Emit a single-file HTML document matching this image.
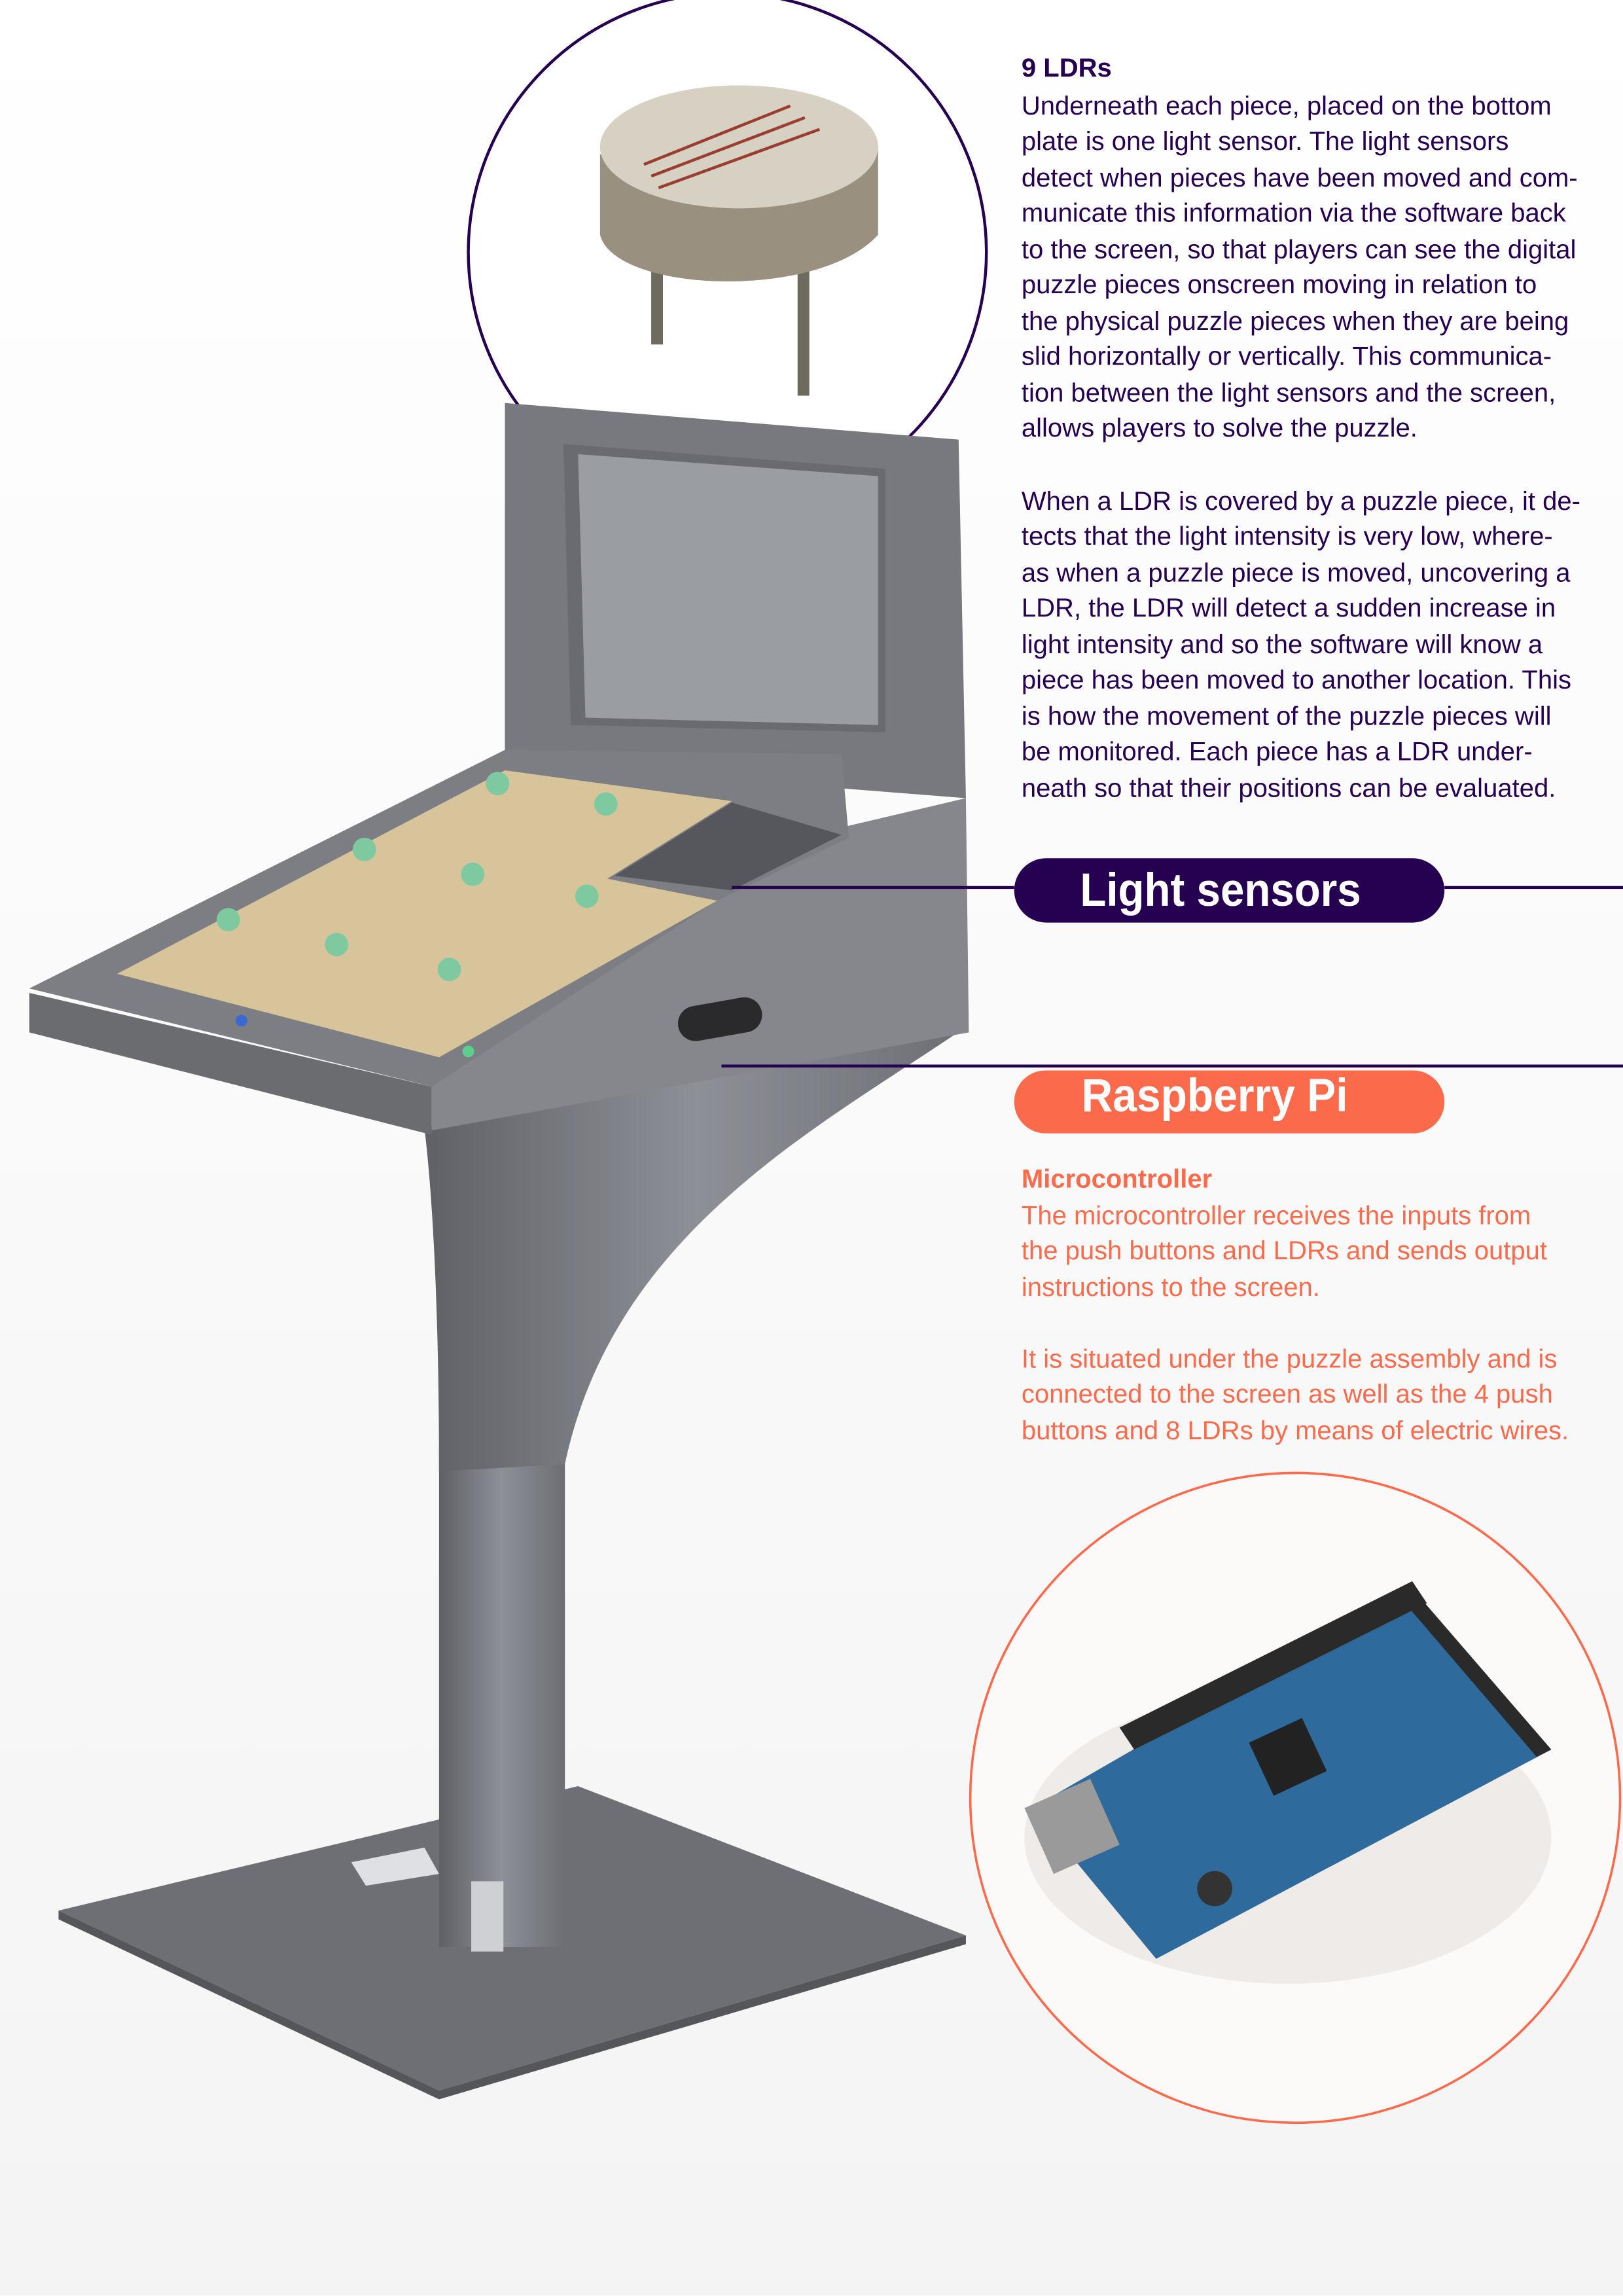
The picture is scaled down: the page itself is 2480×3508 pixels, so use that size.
<!DOCTYPE html>
<html><head><meta charset="utf-8"><style>
html,body{margin:0;padding:0;background:#fff;}
svg{display:block}
.b{font-family:"Liberation Sans",sans-serif;font-size:17.9px;fill:#260051;}
.o{font-family:"Liberation Sans",sans-serif;font-size:17.9px;fill:#fc6a4c;}
</style></head><body>
<svg width="2480" height="3508" viewBox="0 0 1109 1568" xmlns="http://www.w3.org/2000/svg">
<defs>
<linearGradient id="g1" x1="0" y1="0" x2="1" y2="0"><stop offset="0" stop-color="#5f6167"/><stop offset="0.5" stop-color="#8d9096"/><stop offset="1" stop-color="#6c6e74"/></linearGradient>
<linearGradient id="bg" x1="0" y1="0" x2="0" y2="1"><stop offset="0" stop-color="#fff"/><stop offset="1" stop-color="#f4f4f4"/></linearGradient>
</defs>
<rect width="1109" height="1568" fill="url(#bg)"/>
<circle cx="497" cy="172" r="177" fill="#fff" stroke="#260051" stroke-width="2"/>
<rect x="445" y="150" width="8" height="85" fill="#6f6a5f"/>
<rect x="545" y="175" width="8" height="95" fill="#6f6a5f"/>
<path d="M410,105 L410,160 C420,200 560,205 600,160 L600,100 Z" fill="#9a9080"/>
<ellipse cx="505" cy="100" rx="95" ry="42" fill="#d6d1c2"/>
<path d="M440,112 L540,72 M445,120 L550,80 M450,128 L560,88" stroke="#9b3c30" stroke-width="2"/>
<polygon points="40,1305 395,1220 660,1322 300,1428" fill="#6e6f74"/>
<polygon points="40,1305 300,1428 660,1322 660,1328 300,1434 40,1311" fill="#55565a"/>
<rect x="300" y="990" width="86" height="340" fill="url(#g1)"/>
<polygon points="240,1272 290,1262 300,1280 250,1288" fill="#dfe0e3"/>
<rect x="322" y="1285" width="22" height="48" fill="#cfd0d3"/>
<path d="M290,770 L662,700 C560,770 420,840 386,1000 L300,1005 C300,900 296,820 290,770 Z" fill="url(#g1)"/>
<polygon points="345,275 655,300 660,545 345,520" fill="#78797e"/>
<polygon points="385,303 605,320 605,500 390,495" fill="#6a6b70"/>
<polygon points="395,310 600,325 600,495 400,490" fill="#9a9da2"/>
<polygon points="420,600 575,565 660,545 662,705 295,772 295,742" fill="#85878c"/>
<polygon points="20,675 345,512 575,515 580,572 490,615 295,742" fill="#7c7e83"/>
<polygon points="20,678 295,742 295,775 20,705" fill="#6a6c70"/>
<polygon points="80,665 345,526 500,547 415,600 490,615 300,722" fill="#d8c49a"/>
<polygon points="420,598 500,548 575,570 500,608" fill="#55575c"/>
<rect x="463" y="684" width="58" height="24" rx="12" fill="#2a2a2d" transform="rotate(-10 492 696)"/>
<g fill="#7fc9a0">
<circle cx="340" cy="535" r="8"/><circle cx="414" cy="549" r="8"/><circle cx="249" cy="580" r="8"/><circle cx="323" cy="597" r="8"/><circle cx="401" cy="612" r="8"/><circle cx="156" cy="628" r="8"/><circle cx="230" cy="645" r="8"/><circle cx="307" cy="662" r="8"/>
</g>
<circle cx="165" cy="697" r="4" fill="#3a6ad0"/>
<circle cx="320" cy="718" r="4" fill="#5bd08a"/>
<line x1="500" y1="606" x2="693" y2="606" stroke="#260051" stroke-width="2"/>
<line x1="987" y1="606" x2="1109" y2="606" stroke="#260051" stroke-width="2"/>
<line x1="493" y1="728" x2="1109" y2="728" stroke="#260051" stroke-width="2"/>
<rect x="693" y="586" width="294" height="44" rx="22" fill="#260051"/>
<text x="738" y="618.5" textLength="192" lengthAdjust="spacingAndGlyphs" font-family="Liberation Sans,sans-serif" font-weight="bold" font-size="32" fill="#fff">Light sensors</text>
<rect x="693" y="731" width="294" height="43" rx="21.5" fill="#fc6a4c"/>
<text x="739" y="759" textLength="182" lengthAdjust="spacingAndGlyphs" font-family="Liberation Sans,sans-serif" font-weight="bold" font-size="32" fill="#fff">Raspberry Pi</text>
<text class="b" x="698" y="52" font-weight="bold">9 LDRs</text>
<text class="b" x="698" y="78">Underneath each piece, placed on the bottom</text>
<text class="b" x="698" y="102">plate is one light sensor. The light sensors</text>
<text class="b" x="698" y="127">detect when pieces have been moved and com-</text>
<text class="b" x="698" y="151">municate this information via the software back</text>
<text class="b" x="698" y="176">to the screen, so that players can see the digital</text>
<text class="b" x="698" y="200">puzzle pieces onscreen moving in relation to</text>
<text class="b" x="698" y="225">the physical puzzle pieces when they are being</text>
<text class="b" x="698" y="249">slid horizontally or vertically. This communica-</text>
<text class="b" x="698" y="274">tion between the light sensors and the screen,</text>
<text class="b" x="698" y="298">allows players to solve the puzzle.</text>
<text class="b" x="698" y="348">When a LDR is covered by a puzzle piece, it de-</text>
<text class="b" x="698" y="372">tects that the light intensity is very low, where-</text>
<text class="b" x="698" y="397">as when a puzzle piece is moved, uncovering a</text>
<text class="b" x="698" y="421">LDR, the LDR will detect a sudden increase in</text>
<text class="b" x="698" y="446">light intensity and so the software will know a</text>
<text class="b" x="698" y="470">piece has been moved to another location. This</text>
<text class="b" x="698" y="495">is how the movement of the puzzle pieces will</text>
<text class="b" x="698" y="519">be monitored. Each piece has a LDR under-</text>
<text class="b" x="698" y="544">neath so that their positions can be evaluated.</text>
<text class="o" x="698" y="811" font-weight="bold">Microcontroller</text>
<text class="o" x="698" y="836">The microcontroller receives the inputs from</text>
<text class="o" x="698" y="860">the push buttons and LDRs and sends output</text>
<text class="o" x="698" y="885">instructions to the screen.</text>
<text class="o" x="698" y="934">It is situated under the puzzle assembly and is</text>
<text class="o" x="698" y="958">connected to the screen as well as the 4 push</text>
<text class="o" x="698" y="983">buttons and 8 LDRs by means of electric wires.</text>
<circle cx="885" cy="1228" r="222" fill="#fbfaf9" stroke="#fc6a4c" stroke-width="1.6"/>
<ellipse cx="880" cy="1255" rx="180" ry="100" fill="#efebe8"/>
<polygon points="705,1235 965,1085 1060,1195 790,1338" fill="#2f6a9c"/>
<polygon points="765,1180 965,1080 975,1095 775,1195" fill="#2a2a2a"/>
<polygon points="965,1085 1060,1195 1050,1200 960,1095" fill="#2a2a2a"/>
<polygon points="700,1235 745,1215 765,1260 720,1280" fill="#9a9a9a"/>
<rect x="860" y="1180" width="40" height="40" fill="#222" transform="rotate(-25 880 1200)"/>
<circle cx="830" cy="1290" r="12" fill="#333"/>
</svg>
</body></html>
